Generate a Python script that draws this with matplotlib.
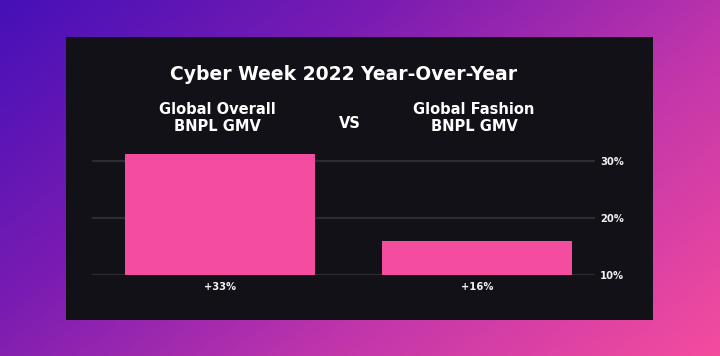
import numpy as np
import matplotlib.pyplot as plt
from matplotlib.patches import Rectangle
from matplotlib.colors import LinearSegmentedColormap

# data
categories = ['Global Overall\nBNPL GMV', 'Global Fashion\nBNPL GMV']
bar_labels = ['+33%', '+16%']
bar_heights = [31.2, 16.0]   # where the bars actually end on the drawn scale
y_ticks = [10, 20, 30]
y_tick_labels = ['10%', '20%', '30%']

W, H = 720, 356
fig = plt.figure(figsize=(W / 100, H / 100), dpi=100)
plt.rcParams['font.family'] = ['DejaVu Sans']

# gradient background
bg = fig.add_axes([0, 0, 1, 1])
gx, gy = np.meshgrid(np.linspace(0, 1, 300), np.linspace(0, 1, 150))
t = 0.62 * gx + 0.38 * gy
cmap = LinearSegmentedColormap.from_list('bg', ['#4610b8', '#7a1cb2', '#c236ab', '#f44c9e'])
bg.imshow(t, cmap=cmap, aspect='auto', extent=[0, 1, 1, 0], origin='upper')
bg.set_xlim(0, 1)
bg.set_ylim(1, 0)
bg.axis('off')

# dark panel
fig.patches.append(Rectangle((66 / W, 1 - 319.5 / H), (653 - 66) / W, (319.5 - 37) / H,
                             transform=fig.transFigure, facecolor='#121117', zorder=1))

fig.text(343.5 / W, 1 - 75 / H, 'Cyber Week 2022 Year-Over-Year', color='white',
         fontsize=13.5, fontweight='bold', ha='center', va='center', zorder=3)
fig.text(217.5 / W, 1 - 118 / H, categories[0], color='white', fontsize=10.5,
         fontweight='bold', ha='center', va='center', linespacing=1.15, zorder=3)
fig.text(474 / W, 1 - 118 / H, categories[1], color='white', fontsize=10.5,
         fontweight='bold', ha='center', va='center', linespacing=1.15, zorder=3)
fig.text(350 / W, 1 - 123 / H, 'VS', color='white', fontsize=10.5,
         fontweight='bold', ha='center', va='center', zorder=3)

ax = fig.add_axes([92 / W, 1 - 275.3 / H, 503 / W, 126.1 / H], zorder=2)
ax.patch.set_alpha(0)
x = np.arange(len(bar_heights))
for yt in y_ticks:
    ax.axhline(yt, color='#2d2c33', lw=1.6, zorder=1)
ax.bar(x, bar_heights, width=0.739, color='#f44c9f', zorder=2)
ax.set_xlim(-0.498, 1.459)
ax.set_ylim(10, 32)
ax.set_xticks(x, bar_labels)
ax.set_yticks(y_ticks, y_tick_labels)
ax.yaxis.tick_right()
ax.tick_params(length=0, colors='#f2f2f2', labelsize=7.2)
ax.tick_params(axis='y', pad=3.5)
ax.tick_params(axis='x', pad=5)
for lab in ax.get_xticklabels() + ax.get_yticklabels():
    lab.set_fontweight('bold')
for s in ax.spines.values():
    s.set_visible(False)

fig.savefig('out.png', dpi=100)
